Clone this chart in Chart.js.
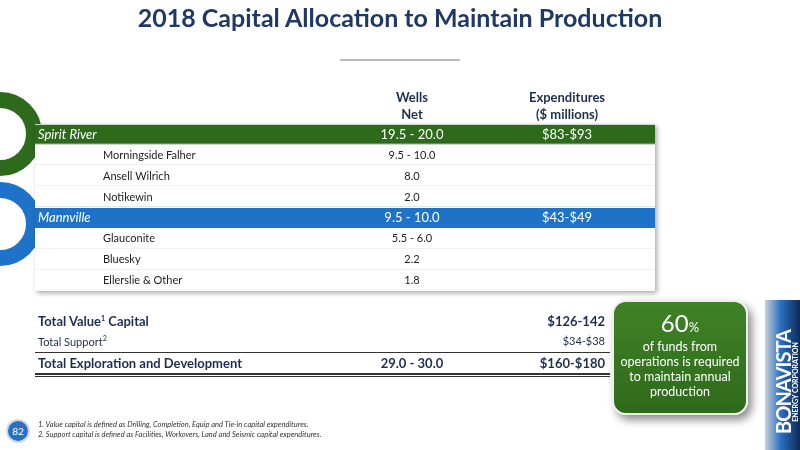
<!DOCTYPE html>
<html><head><meta charset="utf-8">
<script src="https://cdn.jsdelivr.net/npm/chart.js"></script>
<style>
body{margin:0;width:800px;height:450px;overflow:hidden;background:#fff;font-family:Lato,"Open Sans",sans-serif;position:relative}
.a{position:absolute;white-space:nowrap}
#c{position:absolute;left:0;top:0}
.ring{position:absolute;border-radius:50%;box-sizing:border-box}
</style></head><body>
<div class="ring" style="left:-42px;top:92px;width:84px;height:84px;border:16px solid #2d6a1b"></div>
<div class="ring" style="left:-42px;top:182px;width:84px;height:84px;border:16px solid #1e73c9"></div>
<canvas id="c" width="800" height="450"></canvas>
<div class="a" style="left:0;width:800px;top:2px;text-align:center;font-size:25px;font-weight:bold;color:#1f3864">2018 Capital Allocation to Maintain Production</div>
<div class="a" style="left:340px;top:59px;width:120px;height:2px;background:#bbb"></div>
<div class="a" style="left:362px;width:100px;top:89px;text-align:center;font-size:13px;font-weight:bold;color:#1f2d4d;line-height:17px">Wells<br>Net</div>
<div class="a" style="left:507px;width:120px;top:89px;text-align:center;font-size:13px;font-weight:bold;color:#1f2d4d;line-height:17px">Expenditures<br>($ millions)</div>
<div id="tot"></div>
<div class="a" style="left:35px;top:352px;width:575px;height:1px;background:#333"></div>
<div class="a" style="left:35px;top:373px;width:575px;height:2px;background:#333"></div>
<div class="a" style="left:35px;top:376px;width:575px;height:1px;background:#333"></div>
<div class="a" style="left:612px;top:300px;width:136px;height:115px;border-radius:14px;background:linear-gradient(#3f8227,#2f6a1b);box-shadow:4px 5px 8px rgba(0,0,0,.45);border:2px solid #eee;box-sizing:border-box;color:#fff;text-align:center">
<div style="font-size:24px;margin-top:6px">60<span style="font-size:13px">%</span></div>
<div style="font-size:12.5px;line-height:15px;margin-top:2px">of funds from<br>operations is required<br>to maintain annual<br>production</div></div>
<div class="a" style="left:765px;top:300px;width:35px;height:150px;background:linear-gradient(90deg,#c9d0d8,#2a6fc0 45%,#0e2a55)"></div>
<div class="a" style="left:708px;top:370px;width:150px;height:24px;line-height:24px;transform:rotate(-90deg);font-size:20px;font-weight:bold;color:#fff;letter-spacing:-1px;text-align:center">BONAVISTA</div>
<div class="a" style="left:720px;top:377px;width:150px;height:10px;line-height:10px;transform:rotate(-90deg);font-size:7px;font-weight:bold;color:#fff;text-align:center">ENERGY CORPORATION</div>
<div class="a" style="left:6px;top:419px;width:24px;height:24px;border-radius:50%;background:#2a6fc0;border:2px solid #cfd8e3;box-sizing:border-box;color:#fff;font-size:10px;text-align:center;line-height:20px">82</div>
<div class="a" style="left:38px;top:420px;font-size:7.5px;font-style:italic;color:#333;line-height:10px">1. Value capital is defined as Drilling, Completion, Equip and Tie-in capital expenditures.<br>2. Support capital is defined as Facilities, Workovers, Land and Seismic capital expenditures.</div>
<script>
const rowNames=["Spirit River","Morningside Falher","Ansell Wilrich","Notikewin","Mannville","Glauconite","Bluesky","Ellerslie & Other"];
const rowWells=["19.5 - 20.0","9.5 - 10.0","8.0","2.0","9.5 - 10.0","5.5 - 6.0","2.2","1.8"];
const rowExp=["$83-$93","","","","$43-$49","","",""];
const rowHeader=[true,false,false,false,true,false,false,false];
const rowColor=["#2d6a1b","#fff","#fff","#fff","#1e73c9","#fff","#fff","#fff"];
const totNames=["Total Value¹ Capital","Total Support²","Total Exploration and Development"];
const totWells=["","","29.0 - 30.0"];
const totExp=["$126-142","$34-$38","$160-$180"];

let h='',ty=[313,334,355],fs=[13,11,13],fw=['bold','normal','bold'];
totNames.forEach((n,i)=>{
 const s=`top:${ty[i]}px;font-size:${fs[i]}px;font-weight:${fw[i]};color:#1f2d4d`;
 h+=`<div class="a" style="left:38px;${s}">${n.replace('¹','<sup style="font-size:7px">1</sup>').replace('²','<sup style="font-size:7px">2</sup>')}</div>`;
 h+=`<div class="a" style="left:362px;width:100px;text-align:center;${s}">${totWells[i]}</div>`;
 h+=`<div class="a" style="left:500px;width:105px;text-align:right;${s}">${totExp[i]}</div>`;
});
document.getElementById('tot').innerHTML=h;

const txt={id:'txt',afterDatasetsDraw(ch){
 const c=ch.ctx,y=ch.scales.y;
 rowNames.forEach((n,i)=>{
  const py=y.getPixelForValue(i),hd=rowHeader[i];
  c.fillStyle=hd?'#fff':'#222';c.textBaseline='middle';
  c.font=(hd?'italic 13px':'11px')+' Lato';c.textAlign='left';
  c.fillText(n,hd?38:103,py);
  c.font=(hd?'13px':'11px')+' Lato';c.textAlign='center';
  c.fillText(rowWells[i],412,py);c.fillText(rowExp[i],567,py);
 });
}};
new Chart(document.getElementById('c'),{type:'bar',
 data:{labels:rowNames,datasets:[{data:rowNames.map(()=>[0,1]),backgroundColor:rowColor,
  borderColor:rowColor.map(c=>c=='#fff'?'#e6e6e6':c),borderWidth:{bottom:1},borderSkipped:false,
  barPercentage:1,categoryPercentage:0.96}]},
 options:{indexAxis:'y',responsive:false,animation:false,events:[],
  layout:{padding:{left:35,right:145,top:124,bottom:159}},
  plugins:{legend:{display:false},tooltip:{enabled:false}},
  scales:{x:{display:false,min:0,max:1},y:{display:false}}},
 plugins:[txt,{id:'sh',beforeDatasetsDraw(ch){const c=ch.ctx,a=ch.chartArea;c.save();c.shadowColor='rgba(0,0,0,.35)';c.shadowBlur=5;c.shadowOffsetX=2;c.shadowOffsetY=2;c.fillStyle='#fff';c.fillRect(a.left,a.top,a.right-a.left,a.bottom-a.top);c.restore();}}]});
</script></body></html>
